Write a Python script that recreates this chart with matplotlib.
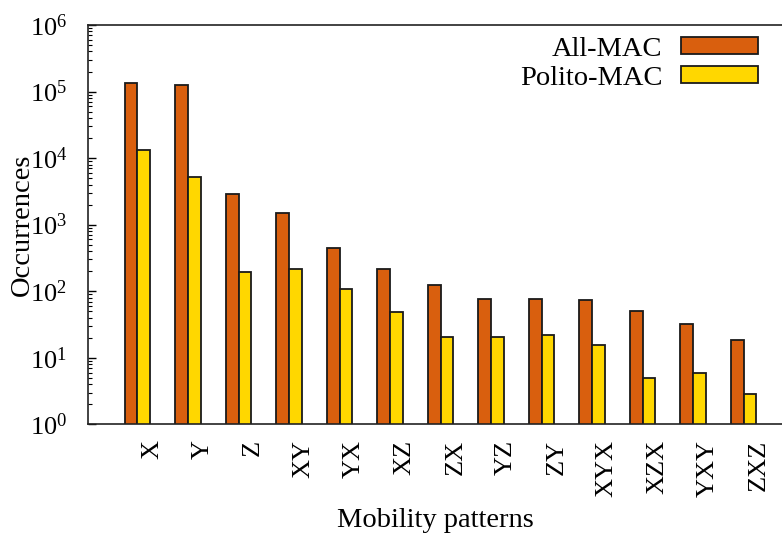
import matplotlib
matplotlib.use("Agg")
import matplotlib.pyplot as plt
import numpy as np

plt.rcParams["font.family"] = ["Liberation Serif", "DejaVu Serif"]
plt.rcParams["mathtext.fontset"] = "custom"
plt.rcParams["mathtext.rm"] = "Liberation Serif"
plt.rcParams["mathtext.it"] = "Liberation Serif:italic"

patterns = ["X", "Y", "Z", "XY", "YX", "XZ", "ZX", "YZ", "ZY", "XYX", "XZX", "YXY", "ZXZ"]
all_mac = [133000, 125000, 2900, 1510, 446, 213, 125, 77, 76, 74, 51, 32, 18.5]
polito_mac = [13400, 5200, 192, 213, 108, 48, 20.5, 20.5, 21.7, 15.7, 5.0, 5.8, 2.9]
series_names = ["All-MAC", "Polito-MAC"]
ytick_values = [1, 10, 100, 1000, 10000, 100000, 1000000]
ytick_labels = ["$10^{0}$", "$10^{1}$", "$10^{2}$", "$10^{3}$", "$10^{4}$", "$10^{5}$", "$10^{6}$"]

orange = "#D95F0E"
gold = "#FFD700"

fig = plt.figure(figsize=(7.82, 5.35), dpi=100)
ax = fig.add_axes([88 / 782, (535 - 424.3) / 535, 1 - 88 / 782, (424.3 - 25) / 535])

x = np.arange(len(patterns))
w = 0.25
ax.bar(x - w / 2, all_mac, width=w, color=orange, edgecolor="#1a1a1a", linewidth=1.3,
       label=series_names[0])
ax.bar(x + w / 2, polito_mac, width=w, color=gold, edgecolor="#1a1a1a", linewidth=1.3,
       label=series_names[1])

ax.set_yscale("log")
ax.set_ylim(1, 1e6)
ax.set_xlim(-0.98, 12.76)

ax.set_yticks(ytick_values)
ax.set_yticklabels(ytick_labels, fontsize=19)
ax.tick_params(axis="y", which="major", direction="in", length=6, width=1, pad=15)
ax.tick_params(axis="y", which="minor", direction="in", length=3, width=0.8)

ax.set_xticks(x + 0.29)
ax.set_xticklabels(patterns, rotation=90, fontsize=19, va="top", ha="center")
ax.tick_params(axis="x", length=0, pad=11)

ax.spines["right"].set_visible(False)
for s in ["left", "bottom", "top"]:
    ax.spines[s].set_linewidth(1.2)
    ax.spines[s].set_color("#222222")

ax.set_ylabel("Occurrences", fontsize=20.5)
ax.yaxis.set_label_coords(-0.094, 0.5)
ax.yaxis.label.set_va("center")
ax.set_xlabel("Mobility patterns", fontsize=20.5)
ax.xaxis.set_label_coords(0.5, -0.24)
ax.xaxis.label.set_va("center")

leg = ax.legend(loc="upper right", frameon=False, markerfirst=False, fontsize=20.5,
                handlelength=2.7, handleheight=0.55, handletextpad=0.65,
                labelspacing=0.15, bbox_to_anchor=(1.002, 1.035))
for t in leg.get_texts():
    t.set_ha("right")

fig.savefig("out.png", dpi=100)
